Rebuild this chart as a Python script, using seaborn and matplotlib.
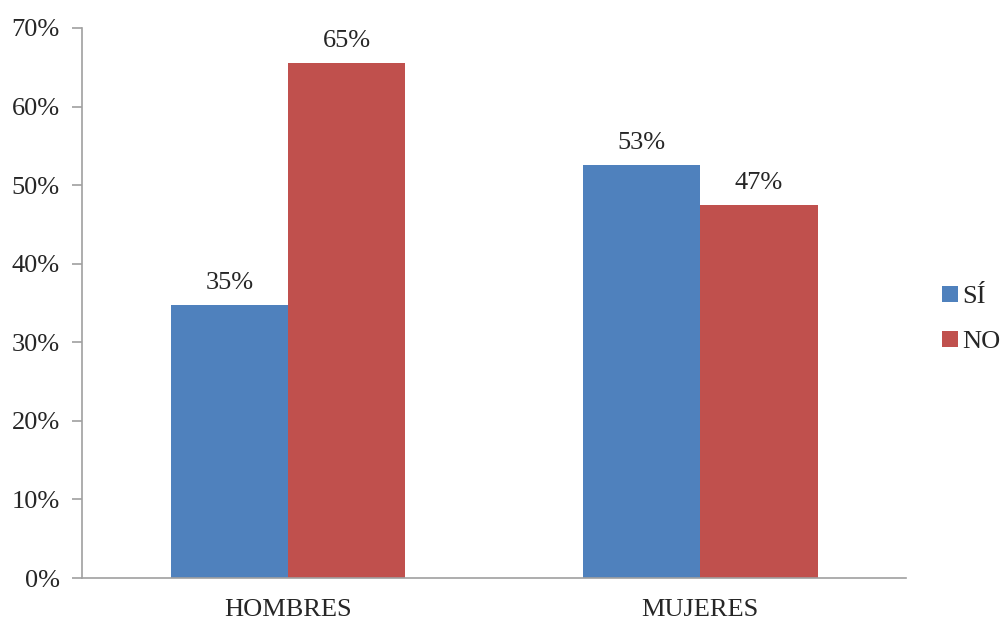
import matplotlib
matplotlib.use("Agg")
import matplotlib.pyplot as plt
import pandas as pd
import seaborn as sns
from matplotlib.ticker import FixedLocator, PercentFormatter

# Data
categorias = ["HOMBRES", "MUJERES"]
respuestas = ["SÍ", "NO"]
si_valores = [34.7, 52.5]
no_valores = [65.5, 47.5]
si_etiquetas = ["35%", "53%"]
no_etiquetas = ["65%", "47%"]

colores = ["#4F81BD", "#C0504D"]

sns.set_style("white")
plt.rcParams["font.family"] = ["Liberation Serif", "DejaVu Serif"]
plt.rcParams["font.size"] = 19

df = pd.DataFrame({
    "categoria": categorias * 2,
    "respuesta": [respuestas[0]] * 2 + [respuestas[1]] * 2,
    "valor": si_valores + no_valores,
})

fig = plt.figure(figsize=(10.07, 6.19), dpi=100)
ax = fig.add_axes([0.0814, 0.0662, 0.8185, 0.8886])

sns.barplot(data=df, x="categoria", y="valor", hue="respuesta",
            hue_order=respuestas, order=categorias, palette=colores,
            width=0.57, saturation=1, ax=ax, linewidth=0)

# Value labels above bars
for cont, labels in zip(ax.containers, [si_etiquetas, no_etiquetas]):
    ax.bar_label(cont, labels=labels, padding=8, fontsize=19)

ax.set_ylim(0, 70)
ax.set_xlim(-0.5, 1.5)
ax.yaxis.set_major_locator(FixedLocator(range(0, 71, 10)))
ax.yaxis.set_major_formatter(PercentFormatter(decimals=0))

# Category tick marks sit on the boundaries
ax.xaxis.set_minor_locator(FixedLocator([-0.5, 0.5, 1.5]))
ax.tick_params(axis="x", which="major", length=0, pad=15, labelsize=19)
ax.tick_params(axis="x", which="minor", length=7, width=1.2, color="#A0A0A0", direction="out")
ax.tick_params(axis="y", which="major", left=True, length=7, width=1.2, color="#A0A0A0",
               direction="out", labelsize=19, pad=9)

for side in ["top", "right"]:
    ax.spines[side].set_visible(False)
for side in ["left", "bottom"]:
    ax.spines[side].set_color("#A0A0A0")
    ax.spines[side].set_linewidth(1.2)

ax.set_xlabel("")
ax.set_ylabel("")

leg = ax.legend(loc="center left", bbox_to_anchor=(1.015, 0.47), frameon=False,
                fontsize=19, handlelength=0.6, handleheight=0.6,
                handletextpad=0.15, labelspacing=0.85)

fig.savefig("out.png", dpi=100)
